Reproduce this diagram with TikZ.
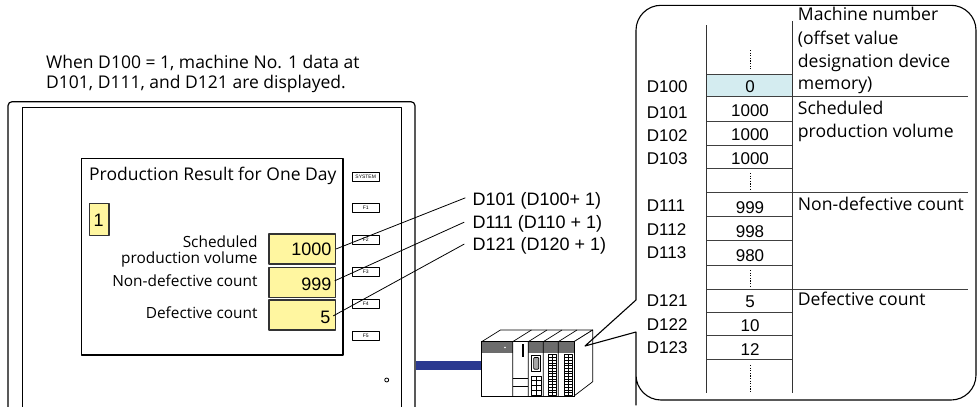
\documentclass[tikz,border=0pt]{standalone}
\usepackage{fontspec}
\setmainfont{Open Sans}
\newfontfamily\arialfont{Liberation Sans}
\definecolor{dispyellow}{RGB}{255,246,160}
\definecolor{cellblue}{RGB}{212,236,240}
\definecolor{cablenavy}{RGB}{43,57,144}
\definecolor{plcband}{RGB}{108,108,108}
\begin{document}
\begin{tikzpicture}[x=1pt,y=-1pt,line join=round,
  uitext/.style={inner sep=0pt,font=\fontsize{#1}{#1}\selectfont},
  numtext/.style={inner sep=0pt,font=\arialfont\fontsize{#1}{#1}\selectfont},
  valbox/.style={draw=black!80,line width=1.2pt,fill=dispyellow,minimum width=66.7pt,
    minimum height=30pt,inner sep=0pt,anchor=north west},
  fkey/.style={draw,line width=0.8pt,minimum width=26.7pt,minimum height=9pt,inner sep=0pt,
    font=\arialfont\fontsize{5}{5}\selectfont},
  leader/.style={line width=0.8pt},
  tblrule/.style={line width=1pt,draw=black!75},
  tblpost/.style={line width=1.3pt,draw=black!80},
  dotsline/.style={line width=0.8pt,dash pattern=on 1.2pt off 1.4pt},
  plcline/.style={line width=0.7pt}]
\useasboundingbox (0,0) rectangle (978,407);

% ---------------- operator panel ----------------
\draw[line width=1.2pt,rounded corners=4pt] (8,409) -- (8,101.7) -- (415,101.7) -- (415,409);
\draw[line width=1.5pt] (22.7,409) -- (22.7,107.3) -- (401.7,107.3) -- (401.7,409);

\node[uitext=17.5,anchor=base west] (note1) at (46,68) {When D100 = 1, machine No. 1 data at};
\node[uitext=17.5,anchor=base west] (note2) at (46,88) {D101, D111, and D121 are displayed.};

% screen
\node[draw,line width=1.2pt,minimum width=261.6pt,minimum height=196.6pt,inner sep=0pt,
  anchor=north west] (screen) at (80.7,157.7) {};
\node[uitext=17.5,anchor=base west] (title) at (89,180.7) {Production Result for One Day};

\node[draw=black!80,line width=1.2pt,fill=dispyellow,minimum width=19.3pt,minimum height=32pt,
  inner sep=0pt,anchor=north west] (mno) at (89,203) {};
\node[numtext=18,anchor=base] (mnotxt) at (98.7,226.7) {1};

\node[valbox] (v1) at (268.3,233.3) {};
\node[valbox] (v2) at (268.3,266.7) {};
\node[valbox] (v3) at (268.3,299.3) {};
\node[numtext=18,anchor=base east] (n1) at (331.7,255) {1000};
\node[numtext=18,anchor=base east] (n2) at (331.5,290) {999};
\node[numtext=18,anchor=base east] (n3) at (330.5,323.3) {5};

\node[uitext=15.4,anchor=base east] (c1a) at (257.7,247.3) {Scheduled};
\node[uitext=15.4,anchor=base east] (c1b) at (257.7,263.3) {production volume};
\node[uitext=15.4,anchor=base east] (c2) at (257.7,286) {Non-defective count};
\node[uitext=15.4,anchor=base east] (c3) at (257.7,318.3) {Defective count};

% function keys
\node[fkey] (ksys) at (365.7,176.5) {SYSTEM};
\node[fkey] (kf1) at (365.7,207.8) {F1};
\node[fkey] (kf2) at (365.7,239.8) {F2};
\node[fkey] (kf3) at (365.7,271.8) {F3};
\node[fkey] (kf4) at (365.7,303.8) {F4};
\node[fkey] (kf5) at (365.7,336.2) {F5};
\node[draw,circle,line width=0.8pt,minimum size=4pt,inner sep=0pt] (lamp) at (386.7,380) {};

% device labels and leaders
\node[numtext=18,anchor=base west] (l1) at (472.3,205) {D101 (D100+ 1)};
\node[numtext=18,anchor=base west] (l2) at (472.3,228.3) {D111 (D110 + 1)};
\node[numtext=18,anchor=base west] (l3) at (472.3,250.7) {D121 (D120 + 1)};
\draw[leader] (v1.east) -- ([xshift=-7pt,yshift=2.5pt]l1.west);
\draw[leader] ([xshift=-1.5pt,yshift=1.5pt]v2.east) -- ([xshift=-8pt,yshift=1.5pt]l2.west);
\draw[leader] ([xshift=-3pt,yshift=-1pt]v3.east) -- ([xshift=-8pt,yshift=2pt]l3.west);

% ---------------- cable and PLC ----------------
\fill[cablenavy] (416,361) rectangle (481.7,370);

\draw[plcline,fill=white] (481.7,341.7) -- (500.4,330) -- (592.7,330) -- (574,341.7) -- cycle;
\draw[plcline,fill=white] (574,341.7) -- (592.7,330) -- (592.7,381.7) -- (574,396) -- cycle;
\draw[plcline,fill=white] (481.7,341.7) rectangle (574,396);
\foreach \a/\b in {481.7/512.7,528.3/543.3,543.3/558.3,558.3/574}
  \fill[plcband] (\a,341.7) rectangle (\b,353.3);
\draw[plcline] (481.7,341.7) rectangle (574,396);
\foreach \x in {512.7,528.3,543.3,558.3}
  \draw[plcline] (\x,396) -- (\x,341.7) -- (\x+18.7,330);
\fill[white] (505,347.5) circle (0.8);
% CPU module
\fill (522,344) rectangle (524.3,357);
\draw[plcline] (512.7,378.3) -- (528.3,378.3) (512.7,386.7) -- (528.3,386.7);
% communication module
\draw[plcline] (531.7,355) rectangle (540.7,371.7);
\draw[plcline,fill=black!35,rounded corners=1pt] (533.6,357.5) rectangle (538.8,369.2);
\draw[plcline] (531.7,376) rectangle (541,395);
\draw[plcline] (536.35,376) -- (536.35,395);
\foreach \y in {380.75,385.5,390.25} \draw[plcline] (531.7,\y) -- (541,\y);
% I/O modules
\foreach \s in {548.5,564} {
  \draw[plcline] (\s,354.7) rectangle (\s+8,395);
  \draw[line width=0.5pt] (\s+4,354.7) -- (\s+4,395);
  \foreach \k in {1,...,14} \draw[line width=0.5pt] (\s,354.7+\k*2.7) -- (\s+8,354.7+\k*2.7);
}
\coordinate (plctip) at (585,346);

% ---------------- callout with device memory ----------------
\draw[line width=1.1pt,line cap=round] (636,300) -- (636,280) [rounded corners=25pt] -- (636,5.3)
  -- (976,5.3) -- (976,400) -- (636,400) -- (636,380) [sharp corners] -- (636,332)
  -- (plctip) -- (636,300);

\fill[cellblue] (706.7,74) rectangle (792.7,96.7);
\foreach \y in {74,96.7,121.7,145.3,168.3,216.7,240.7,265,312.7,335.7,359.3}
  \draw[tblrule] (706.7,\y) -- (792.7,\y);
\foreach \y in {96.7,192.5,289}
  \draw[tblrule] (706.7,\y) -- (967.7,\y);
\draw[tblpost] (706.7,25) -- (706.7,393);
\draw[tblpost] (792.7,21) -- (792.7,393);
\draw[dotsline] (750,50) -- (750,70);
\draw[dotsline] (750,173) -- (750,189);
\draw[dotsline] (750,270) -- (750,286);
\draw[dotsline] (750,365) -- (750,392);

\foreach \name/\y in {D100/92.3,D101/118,D102/141,D103/164,D111/211.7,D112/235,D113/258.3,
    D121/306.7,D122/330,D123/353.3}
  \node[numtext=17,anchor=base west] (a\name) at (646.7,\y) {\name};
\foreach \val/\y/\tag in {0/92.7/r0,1000/116.6/r1,1000/140.5/r2,1000/164/r3,999/213.3/r11,
    998/237.7/r12,980/261.7/r13,5/307.3/r21,10/331.7/r22,12/355/r23}
  \node[numtext=17,anchor=base] (\tag) at (750,\y) {\val};

\node[uitext=17.6,anchor=base west] (m1) at (797.7,20.7) {Machine number};
\node[uitext=17.6,anchor=base west] (m2) at (797.7,44) {(offset value};
\node[uitext=17.6,anchor=base west] (m3) at (797.7,67.7) {designation device};
\node[uitext=17.6,anchor=base west] (m4) at (797.7,89.3) {memory)};
\node[uitext=17.6,anchor=base west] (s1) at (797.7,114.3) {Scheduled};
\node[uitext=17.6,anchor=base west] (s2) at (797.7,137.3) {production volume};
\node[uitext=17.6,anchor=base west] (nd) at (797.7,210) {Non-defective count};
\node[uitext=17.6,anchor=base west] (df) at (797.7,305) {Defective count};
\end{tikzpicture}
\end{document}
